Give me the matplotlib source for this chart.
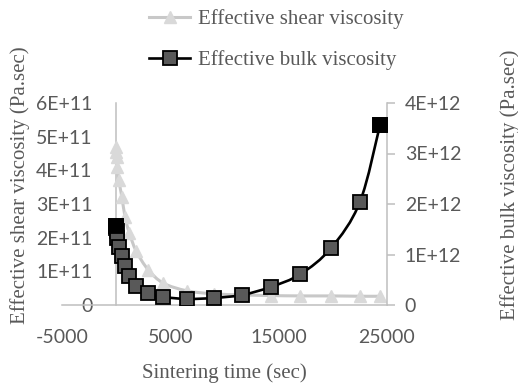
import matplotlib
matplotlib.use("Agg")
import matplotlib.pyplot as plt
from matplotlib.path import Path
from matplotlib.patches import PathPatch
from matplotlib.lines import Line2D
import numpy as np

# ---------------- data ----------------
time_sec = [0, 20, 50, 100, 250, 530, 830, 1200, 1850, 2950, 4350,
            6550, 9050, 11650, 14300, 17000, 19850, 22500, 24350]
shear_visc = [4.70e11, 4.55e11, 4.40e11, 4.10e11, 3.70e11, 3.20e11, 2.60e11,
              2.15e11, 1.60e11, 1.05e11, 0.65e11, 0.42e11, 0.33e11, 0.30e11,
              0.28e11, 0.27e11, 0.27e11, 0.26e11, 0.26e11]
bulk_visc = [1.57e12, 1.52e12, 1.47e12, 1.33e12, 1.15e12, 0.97e12, 0.77e12,
             0.57e12, 0.38e12, 0.24e12, 0.16e12, 0.12e12, 0.14e12, 0.20e12,
             0.36e12, 0.61e12, 1.13e12, 2.04e12, 3.56e12]

x_ticks = [-5000, 5000, 15000, 25000]
shear_ticks = [0, 1e11, 2e11, 3e11, 4e11, 5e11, 6e11]
shear_labels = ['0', '1E+11', '2E+11', '3E+11', '4E+11', '5E+11', '6E+11']
bulk_ticks = [0, 1e12, 2e12, 3e12, 4e12]
bulk_labels = ['0', '1E+12', '2E+12', '3E+12', '4E+12']

txt_col = '#595959'
axis_col = '#bfbfbf'
serif = 'Liberation Serif'
sans = 'Lato'


def smooth_path(x, y):
    # excel style smoothed line (catmull-rom turned into bezier pieces)
    pts = np.column_stack([x, y]).astype(float)
    n = len(pts)
    verts = [pts[0]]
    codes = [Path.MOVETO]
    for i in range(n - 1):
        p0 = pts[max(i - 1, 0)]
        p1 = pts[i]
        p2 = pts[i + 1]
        p3 = pts[min(i + 2, n - 1)]
        verts += [p1 + (p2 - p0) / 6.0, p2 - (p3 - p1) / 6.0, p2]
        codes += [Path.CURVE4] * 3
    return Path(verts, codes)


fig = plt.figure(figsize=(5.18, 3.85), dpi=100)
ax = fig.add_axes([62 / 518, 80 / 385, 325 / 518, 202 / 385])
ax2 = ax.twinx()

# shear viscosity, left axis
ax.add_patch(PathPatch(smooth_path(time_sec, shear_visc), facecolor='none',
                       edgecolor='#c8c8c8', lw=2.2, zorder=2))
ax.plot(time_sec, shear_visc, linestyle='none', marker='^', ms=9,
        mfc='#d9d9d9', mec='#d9d9d9', zorder=3)

# bulk viscosity, right axis
ax2.add_patch(PathPatch(smooth_path(time_sec, bulk_visc), facecolor='none',
                        edgecolor='black', lw=1.9, zorder=2))
ax2.plot(time_sec, bulk_visc, linestyle='none', marker='s', ms=10,
         mfc='#595959', mec='black', mew=1.3, zorder=3)
ax2.plot([time_sec[0], time_sec[-1]], [bulk_visc[0], bulk_visc[-1]],
         linestyle='none', marker='s', ms=10, mfc='black', mec='black',
         mew=1.3, zorder=4)

ax.set_xlim(-5000, 25000)
ax.set_ylim(0, 6e11)
ax2.set_ylim(0, 4e12)

ax.set_xticks(x_ticks)
ax.set_xticklabels([str(v) for v in x_ticks])
ax.set_yticks(shear_ticks)
ax.set_yticklabels(shear_labels)
ax2.set_yticks(bulk_ticks)
ax2.set_yticklabels(bulk_labels)

for a in [ax, ax2]:
    for s in a.spines.values():
        s.set_visible(False)
ax.spines['bottom'].set_visible(True)
ax.spines['bottom'].set_color(axis_col)
ax.spines['bottom'].set_linewidth(1.1)
ax.spines['left'].set_visible(True)
ax.spines['left'].set_position(('data', 0))
ax.spines['left'].set_color(axis_col)
ax.spines['left'].set_linewidth(1.1)
ax2.spines['right'].set_visible(True)
ax2.spines['right'].set_color(axis_col)
ax2.spines['right'].set_linewidth(1.1)

ax.tick_params(axis='x', length=0, pad=17, labelsize=14, labelcolor=txt_col)
ax.tick_params(axis='y', length=0, pad=17, labelsize=14, labelcolor=txt_col)
ax2.tick_params(axis='y', length=5.8, width=1.1, color=axis_col, pad=7,
                labelsize=14, labelcolor=txt_col)
for lab in ax.get_xticklabels() + ax.get_yticklabels() + ax2.get_yticklabels():
    lab.set_fontfamily(sans)

ax.set_xlabel('Sintering time (sec)', fontsize=15, family=serif, color=txt_col)
ax.set_ylabel('Effective shear viscosity (Pa.sec)', fontsize=15, family=serif,
              color=txt_col)
ax2.set_ylabel('Effective bulk viscosity (Pa.sec)', fontsize=15, family=serif,
               color=txt_col, rotation=90)
ax.xaxis.set_label_coords(0.5, -0.29)
ax.yaxis.set_label_coords(-0.098, 0.594)
ax2.yaxis.set_label_coords(1.348, 0.594)

handles = [Line2D([], [], color='#c8c8c8', lw=2.2, marker='^', ms=9,
                  mfc='#d9d9d9', mec='#d9d9d9'),
           Line2D([], [], color='black', lw=1.9, marker='s', ms=10,
                  mfc='#595959', mec='black', mew=1.3)]
leg = fig.legend(handles, ['Effective shear viscosity', 'Effective bulk viscosity'],
                 loc='upper center', bbox_to_anchor=(276 / 518, 1.0),
                 frameon=False, handlelength=2.0, handletextpad=0.35,
                 labelspacing=1.0, borderaxespad=0.05,
                 prop={'family': serif, 'size': 15})
for t in leg.get_texts():
    t.set_color(txt_col)

fig.savefig('out.png', dpi=100)
